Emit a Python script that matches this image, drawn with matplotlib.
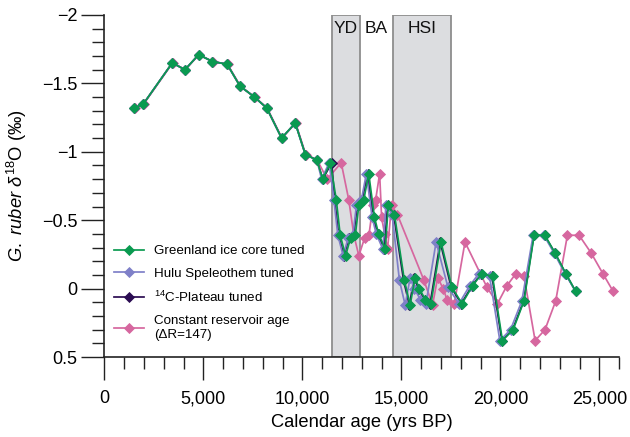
import matplotlib
matplotlib.use("Agg")
import matplotlib.pyplot as plt
from matplotlib.ticker import FixedLocator, MultipleLocator, FuncFormatter

plt.rcParams['font.family'] = ['Liberation Sans', 'DejaVu Sans']
plt.rcParams['mathtext.fontset'] = 'custom'
plt.rcParams['mathtext.rm'] = 'Liberation Sans'
plt.rcParams['mathtext.it'] = 'Liberation Sans:italic'

# d18O values (permil), same samples on four age models
d18o = [-1.32, -1.35, -1.65, -1.60, -1.71, -1.66, -1.64, -1.48, -1.40, -1.32,
        -1.10, -1.21, -0.98, -0.94, -0.80, -0.92, -0.65, -0.39, -0.24, -0.37,
        -0.39, -0.61, -0.65, -0.84, -0.52, -0.40, -0.29, -0.61, -0.54, -0.06,
        0.12, -0.08, 0.00, 0.08, 0.11, -0.34, -0.01, 0.11, -0.02, -0.11,
        -0.09, 0.38, 0.30, 0.09, -0.39, -0.39, -0.26, -0.11, 0.02]

age_greenland = [1510, 1970, 3430, 4070, 4760, 5460, 6200, 6850, 7580, 8200,
                 8950, 9640, 10150, 10730, 11030, 11410, 11710, 11910, 12180, 12430,
                 12670, 12850, 13100, 13350, 13640, 13850, 14180, 14340, 14650, 15150,
                 15440, 15690, 15900, 16210, 16490, 17000, 17550, 18060, 18590, 19060,
                 19600, 20100, 20640, 21190, 21700, 22240, 22760, 23300, 23800]

age_hulu = [1510, 1970, 3430, 4070, 4760, 5460, 6200, 6850, 7580, 8200,
            8950, 9640, 10150, 10730, 10970, 11350, 11590, 11790, 12060, 12310,
            12550, 12730, 12980, 13230, 13520, 13730, 14060, 14220, 14530, 14900,
            15190, 15440, 15650, 15960, 16240, 16750, 17350, 17910, 18440, 18910,
            19450, 19970, 20510, 21080, 21650, 22190, 22710, 23260, 23800]

age_plateau = [1510, 1970, 3430, 4070, 4760, 5460, 6200, 6850, 7580, 8200,
               8950, 9640, 10150, 10730, 11030, 11480, 11630, 11830, 12100, 12350,
               12590, 12770, 13020, 13290, 13580, 13800, 14130, 14300, 14610, 15110,
               15400, 15650, 15860, 16170, 16450, 16960, 17510, 18020, 18560, 19030,
               19570, 20070, 20610, 21170, 21690, 22230, 22750, 23290, 23790]

age_constant = [1530, 1990, 3450, 4090, 4780, 5480, 6220, 6870, 7600, 8220,
                8970, 9660, 10170, 10750, 11250, 11960, 12340, 12600, 12850, 13140,
                13360, 13560, 13700, 13900, 14000, 14150, 14300, 14500, 14800, 16140,
                16570, 16830, 17110, 17300, 17670, 18210, 19320, 19850, 20320, 20780,
                21190, 21750, 22250, 22790, 23380, 23970, 24580, 25170, 25690]

series_labels = ["Greenland ice core tuned", "Hulu Speleothem tuned",
                 "$^{14}$C-Plateau tuned", "Constant reservoir age\n(\u0394R=147)"]
series_colors = ["#0a9a50", "#7f80c8", "#2b0c52", "#d6679f"]

events = ["YD", "BA", "HSI"]
event_x = [12200, 13750, 16050]
shade_spans = [(11500, 12900), (14600, 17500)]

x_ticks = [0, 5000, 10000, 15000, 20000, 25000]
y_ticks = [-2, -1.5, -1, -0.5, 0, 0.5]

fig = plt.figure(figsize=(6.3, 4.37), dpi=100)
ax = fig.add_axes([0.1656, 0.183, 0.983 - 0.1656, 0.9657 - 0.183])

for lo, hi in shade_spans:
    ax.axvspan(lo, hi, facecolor="#dcdde0", edgecolor="#8e8e8e", lw=1.3, zorder=1)

ages = [age_greenland, age_hulu, age_plateau, age_constant]
handles = []
for i in [3, 1, 2, 0]:
    h, = ax.plot(ages[i], d18o, color=series_colors[i], lw=1.25, marker="D",
                 markersize=4.6, markeredgecolor=series_colors[i],
                 markeredgewidth=0.6, zorder=3 + (3 - i), label=series_labels[i])
    handles.append((i, h))
handles = [h for i, h in sorted(handles)]

for name, xe in zip(events, event_x):
    ax.text(xe, -1.9, name, ha="center", va="center", fontsize=12.5, color="#111111", zorder=10)

ax.set_xlim(0, 26000)
ax.set_ylim(0.5, -2)
ax.spines['top'].set_visible(False)
ax.spines['right'].set_visible(False)
for s in ['left', 'bottom']:
    ax.spines[s].set_linewidth(1.2)
    ax.spines[s].set_color("#222222")

ax.xaxis.set_major_locator(FixedLocator(x_ticks))
ax.xaxis.set_minor_locator(MultipleLocator(1000))
ax.yaxis.set_major_locator(FixedLocator(y_ticks))
ax.yaxis.set_minor_locator(MultipleLocator(0.1))
ax.xaxis.set_major_formatter(FuncFormatter(lambda v, p: f"{int(v):,}"))
ax.yaxis.set_major_formatter(FuncFormatter(lambda v, p: (f"{v:g}").replace("-", "\u2212")))

ax.tick_params(axis='both', which='major', direction='out', length=16.5, width=1.0,
               labelsize=13, color="#222222")
ax.tick_params(axis='both', which='minor', direction='out', length=8.5, width=1.0,
               color="#222222")
ax.tick_params(axis='x', which='major', pad=7.5)
ax.tick_params(axis='y', which='major', pad=3)

ax.set_xlabel("Calendar age (yrs BP)", fontsize=13.2, labelpad=5)
ax.set_ylabel("$\\mathit{G.\\ ruber}$ $\\delta^{18}$O (\u2030)",
              fontsize=13.2, labelpad=9)

leg = ax.legend(handles=handles, loc="upper left", bbox_to_anchor=(0.0, 0.355),
                frameon=False, fontsize=9.6, handlelength=2.3, handletextpad=0.7,
                labelspacing=0.75, borderaxespad=0.3)

fig.savefig("out.png", dpi=100)
